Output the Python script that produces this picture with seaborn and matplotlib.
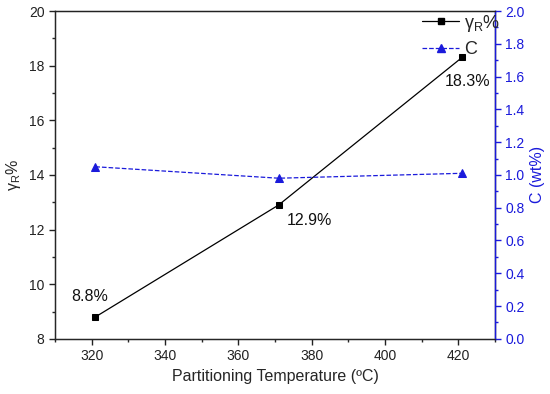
import matplotlib
matplotlib.use('Agg')
import matplotlib.pyplot as plt
import seaborn as sns
from matplotlib.ticker import MultipleLocator, FormatStrFormatter
from matplotlib.lines import Line2D

temps = [321, 371, 421]
gamma_r = [8.8, 12.9, 18.3]
carbon = [1.05, 0.98, 1.01]
gamma_labels = ['8.8%', '12.9%', '18.3%']

sns.set_style('ticks')
plt.rcParams['font.family'] = ['Liberation Sans', 'DejaVu Sans']
plt.rcParams['mathtext.default'] = 'regular'
blue = '#1a1adb'

fig, ax = plt.subplots(figsize=(5.5, 3.94), dpi=100)
fig.subplots_adjust(left=0.1, right=0.9, top=0.972, bottom=0.14)

sns.lineplot(x=temps, y=gamma_r, ax=ax, color='black', marker='s', markersize=5,
             markeredgecolor='black', linewidth=0.9)
ax.set_xlim(310, 430)
ax.set_ylim(8, 20)
ax.xaxis.set_major_locator(MultipleLocator(20))
ax.xaxis.set_minor_locator(MultipleLocator(10))
ax.yaxis.set_major_locator(MultipleLocator(2))
ax.yaxis.set_minor_locator(MultipleLocator(1))
ax.set_xlabel('Partitioning Temperature (ºC)', fontsize=11.5)
ax.set_ylabel(r'$\gamma_R$%', fontsize=11.5)
ax.tick_params(axis='both', labelsize=10, direction='out', length=4, width=1,
               colors='#222222')
ax.tick_params(which='minor', length=2.5, width=1)
for s in ax.spines.values():
    s.set_linewidth(1.0)
    s.set_color('#222222')

# label offsets in points: (dx, dy, ha, va)
offsets = [(-4, 9, 'center', 'bottom'), (6, -6, 'left', 'top'), (4, -12, 'center', 'top')]
for x, y, lab, (dx, dy, ha, va) in zip(temps, gamma_r, gamma_labels, offsets):
    ax.annotate(lab, (x, y), xytext=(dx, dy), textcoords='offset points',
                ha=ha, va=va, fontsize=11.5, color='#111111')

ax2 = ax.twinx()
sns.lineplot(x=temps, y=carbon, ax=ax2, color=blue, marker='^', markersize=6,
             markeredgecolor=blue, linewidth=0.9, linestyle='--')
ax2.set_ylim(0, 2.0)
ax2.yaxis.set_major_locator(MultipleLocator(0.2))
ax2.yaxis.set_minor_locator(MultipleLocator(0.1))
ax2.yaxis.set_major_formatter(FormatStrFormatter('%.1f'))
ax2.set_ylabel('C (wt%)', color=blue, fontsize=11.5)
ax2.tick_params(axis='y', colors=blue, labelsize=10, direction='out', length=4, width=1)
ax2.tick_params(axis='y', which='minor', colors=blue, length=2.5, width=1)
ax2.spines['right'].set_color(blue)
ax2.spines['right'].set_linewidth(1.0)
ax2.spines['top'].set_visible(True)
ax2.spines['top'].set_color('#222222')

handles = [Line2D([], [], color='black', marker='s', markersize=5, linewidth=0.9),
           Line2D([], [], color=blue, marker='^', markersize=6, linewidth=0.9, linestyle='--')]
ax2.legend(handles, [r'$\gamma_R$%', 'C'], loc='upper right', bbox_to_anchor=(1.021, 1.006),
           frameon=False, fontsize=13, handlelength=2.05, handletextpad=0.3,
           borderaxespad=0.0, borderpad=0.2, labelspacing=0.4)

fig.savefig('out.png', dpi=100)
